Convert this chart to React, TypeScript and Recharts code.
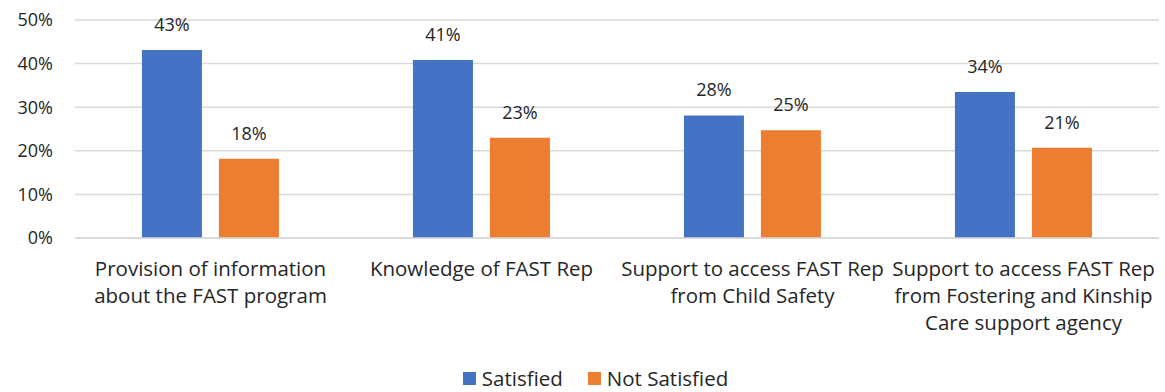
import { BarChart, Bar, XAxis, YAxis, CartesianGrid, Legend, LabelList } from 'recharts';

const categories = [
  'Provision of information about the FAST program',
  'Knowledge of FAST Rep',
  'Support to access FAST Rep from Child Safety',
  'Support to access FAST Rep from Fostering and Kinship Care support agency',
];

// wrapped lines as they appear under each category
const categoryLines = [
  ['Provision of information', 'about the FAST program'],
  ['Knowledge of FAST Rep'],
  ['Support to access FAST Rep', 'from Child Safety'],
  ['Support to access FAST Rep', 'from Fostering and Kinship', 'Care support agency'],
];

const satisfied = [43.1, 40.8, 28.1, 33.5];
const notSatisfied = [18.2, 23.0, 24.7, 20.7];

const yTicks = [0, 10, 20, 30, 40, 50];

const seriesNames = ['Satisfied', 'Not Satisfied'];
const seriesColors = ['#4472c4', '#ed7d31'];

const data = categories.map((name, i) => ({
  name,
  satisfied: satisfied[i],
  notSatisfied: notSatisfied[i],
}));

const FONT = '"Open Sans", sans-serif';
const TEXT = '#262626';

function CategoryTick(props: any) {
  const { x, y, payload } = props;
  const idx = categories.indexOf(payload.value);
  const lines = categoryLines[idx] || [payload.value];
  return (
    <g transform={`translate(${x},${y})`}>
      {lines.map((line, i) => (
        <text
          key={i}
          x={0}
          y={i * 27 + 30}
          textAnchor="middle"
          fill={TEXT}
          fontSize={20.5}
          fontFamily={FONT}
        >
          {line}
        </text>
      ))}
    </g>
  );
}

function LegendContent() {
  return (
    <div
      style={{
        display: 'flex',
        justifyContent: 'center',
        gap: 25,
        paddingTop: 4,
        marginLeft: 32,
        fontFamily: FONT,
        fontSize: 20.5,
        color: TEXT,
      }}
    >
      {seriesNames.map((n, i) => (
        <div key={n} style={{ display: 'flex', alignItems: 'center' }}>
          <span style={{ width: 13, height: 13, background: seriesColors[i], display: 'inline-block', marginRight: 6 }} />
          <span>{n}</span>
        </div>
      ))}
    </div>
  );
}

export default function App() {
  return (
    <div style={{ position: 'absolute', top: 0, left: 0, background: '#fff' }}>
      <BarChart
        width={1165}
        height={392}
        data={data}
        margin={{ top: 20, right: 6, left: 0, bottom: 0 }}
        barCategoryGap="24.7%"
        barGap={17}
      >
        <CartesianGrid vertical={false} stroke="#d9d9d9" strokeWidth={1.5} />
        <XAxis
          dataKey="name"
          tick={<CategoryTick />}
          tickLine={false}
          axisLine={{ stroke: '#d9d9d9', strokeWidth: 1.5 }}
          interval={0}
          height={122}
        />
        <YAxis
          domain={[0, 50]}
          ticks={yTicks}
          tickFormatter={(v) => `${v}%`}
          tickLine={false}
          axisLine={false}
          width={75}
          tickMargin={16}
          tick={{ fontSize: 18, fill: TEXT, fontFamily: FONT }}
        />
        <Legend verticalAlign="bottom" content={<LegendContent />} />
        <Bar dataKey="satisfied" name="Satisfied" fill={seriesColors[0]} isAnimationActive={false}>
          <LabelList
            dataKey="satisfied"
            position="top"
            offset={19}
            formatter={(v: any) => `${Math.round(v)}%`}
            style={{ fontSize: 18, fill: TEXT, fontFamily: FONT }}
          />
        </Bar>
        <Bar dataKey="notSatisfied" name="Not Satisfied" fill={seriesColors[1]} isAnimationActive={false}>
          <LabelList
            dataKey="notSatisfied"
            position="top"
            offset={19}
            formatter={(v: any) => `${Math.round(v)}%`}
            style={{ fontSize: 18, fill: TEXT, fontFamily: FONT }}
          />
        </Bar>
      </BarChart>
    </div>
  );
}
